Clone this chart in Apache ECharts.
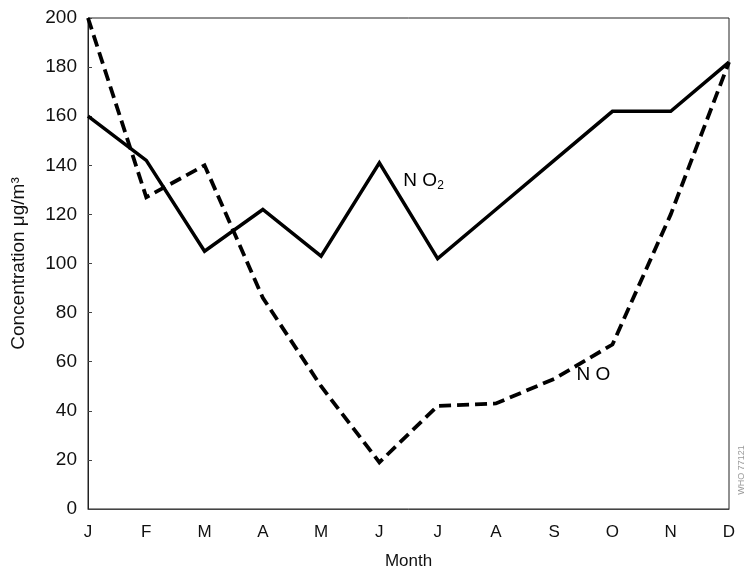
<!DOCTYPE html>
<html><head><meta charset="utf-8">
<script src="https://cdn.jsdelivr.net/npm/echarts@6/dist/echarts.min.js"></script>
<style>html,body{margin:0;padding:0;background:#fff}#c{width:751px;height:576px}</style>
</head><body><div id="c"></div>
<script>
var months = ['J','F','M','A','M','J','J','A','S','O','N','D'];
var no2 = [160, 142, 105, 122, 103, 141, 102, 122, 142, 162, 162, 182];
var no  = [200, 127, 140, 86, 50, 19, 42, 43, 53, 67, 120, 182];
var yTicks = [0, 20, 40, 60, 80, 100, 120, 140, 160, 180, 200];

var chart = echarts.init(document.getElementById('c'));
var font = 'Liberation Sans, Arial, sans-serif';
chart.setOption({
  animation: false,
  backgroundColor: '#fff',
  grid: {left: 88, right: 22, top: 18, bottom: 67, show: true, borderColor: '#222', borderWidth: 1},
  xAxis: {
    type: 'category', data: months, boundaryGap: false,
    name: 'Month', nameLocation: 'middle', nameGap: 44,
    nameTextStyle: {fontFamily: font, fontSize: 17, color: '#111'},
    axisLine: {lineStyle: {color: '#444', width: 1}},
    axisTick: {show: false},
    axisLabel: {fontFamily: font, fontSize: 17, color: '#111', margin: 15},
    splitLine: {show: false}
  },
  yAxis: {
    type: 'value', min: 0, max: 200, interval: 20,
    name: 'Concentration μg/m³', nameLocation: 'middle', nameGap: 60,
    nameTextStyle: {fontFamily: font, fontSize: 19, color: '#111'},
    axisLine: {show: true, lineStyle: {color: '#222', width: 1}},
    axisTick: {show: true, inside: true, length: 4, lineStyle: {color: '#444'}},
    axisLabel: {fontFamily: font, fontSize: 19, color: '#111', margin: 11,
      formatter: function (v) { return yTicks.indexOf(v) >= 0 ? String(v) : ''; }},
    splitLine: {show: false}
  },
  series: [
    {name: 'NO2', type: 'line', data: no2, symbol: 'none',
     lineStyle: {color: '#000', width: 3.5, type: 'solid', join: 'miter'}},
    {name: 'NO', type: 'line', data: no, symbol: 'none',
     lineStyle: {color: '#000', width: 3.8, type: [12, 6], join: 'miter'}}
  ]
});

var pNO2 = chart.convertToPixel({seriesIndex: 0}, [5, no2[5]]);
var pNO = chart.convertToPixel({seriesIndex: 1}, [9, no[9]]);
chart.setOption({
  graphic: [
    {type: 'text', left: pNO2[0] + 24, top: pNO2[1] + 8,
     style: {rich: {b: {fontFamily: font, fontSize: 19, fill: '#000'}, s: {fontFamily: font, fontSize: 12, fill: '#000', padding: [10, 0, 0, 0]}},
       text: '{b|N O}{s|2}'}},
    {type: 'text', left: pNO[0] - 36, top: pNO[1] + 21,
     style: {text: 'N O', fontFamily: font, fontSize: 19, fill: '#000'}},
    {type: 'text', x: 742, y: 470, rotation: Math.PI / 2,
     style: {text: 'WHO 77121', fontFamily: font, fontSize: 9, fill: '#999', align: 'center', verticalAlign: 'middle'}}
  ]
});
</script></body></html>
